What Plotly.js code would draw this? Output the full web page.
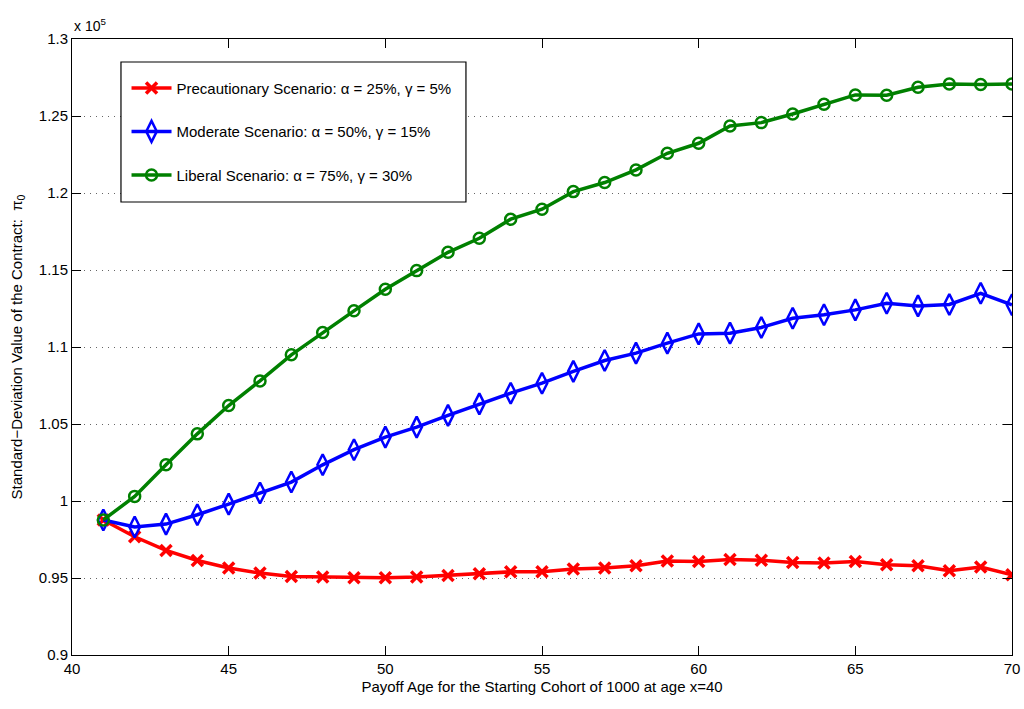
<!DOCTYPE html>
<html>
<head>
<meta charset="utf-8">
<script src="https://cdn.plot.ly/plotly-3.0.1.min.js"></script>
<style>html,body{margin:0;padding:0;background:#fff}#chart{width:1024px;height:709px}</style>
</head>
<body>
<div id="chart"></div>
<script>
// Payoff age (x) and standard-deviation value of the contract (in units of 1e5)
var ages = [41,42,43,44,45,46,47,48,49,50,51,52,53,54,55,56,57,58,59,60,61,62,63,64,65,66,67,68,69,70];

var precautionary = [0.9877,0.9768,0.9679,0.9614,0.9565,0.9532,0.9510,0.9506,0.9502,0.9502,0.9506,0.9516,0.9528,0.9540,0.9541,0.9558,0.9565,0.9580,0.9610,0.9607,0.9620,0.9615,0.9600,0.9598,0.9607,0.9586,0.9580,0.9547,0.9571,0.9521];

var moderate = [0.9877,0.9831,0.9850,0.9911,0.9980,1.0052,1.0123,1.0235,1.0333,1.0415,1.0480,1.0556,1.0631,1.0700,1.0765,1.0842,1.0912,1.0960,1.1025,1.1085,1.1090,1.1127,1.1187,1.1209,1.1241,1.1284,1.1267,1.1276,1.1349,1.1274];

var liberal = [0.9877,1.0030,1.0235,1.0436,1.0620,1.0780,1.0949,1.1094,1.1235,1.1375,1.1496,1.1615,1.1706,1.1830,1.1895,1.2009,1.2068,1.2150,1.2258,1.2323,1.2435,1.2457,1.2513,1.2576,1.2637,1.2635,1.2687,1.2708,1.2704,1.2708];

var seriesNames = [
  'Precautionary Scenario: \u03b1 = 25%, \u03b3 = 5%',
  'Moderate Scenario: \u03b1 = 50%, \u03b3 = 15%',
  'Liberal Scenario: \u03b1 = 75%, \u03b3 = 30%'
];

var xTicks = [40,45,50,55,60,65,70];
var yTicks = [0.9,0.95,1,1.05,1.1,1.15,1.2,1.25,1.3];

var font = {family: 'Liberation Sans, Arial, Helvetica, sans-serif', size: 15, color: '#000'};

var traces = [
  {x: ages, y: precautionary, name: seriesNames[0], mode: 'lines+markers', legendgroup: 'a',
   line: {color: '#ff0000', width: 3.5},
   marker: {symbol: 'x-thin-open', size: 11, color: '#ff0000', line: {color: '#ff0000', width: 3.5}}},
  {x: ages, y: moderate, name: seriesNames[1], mode: 'lines+markers', legendgroup: 'b',
   line: {color: '#0000ff', width: 3.5},
   marker: {symbol: 'diamond-tall-open', size: 15, color: '#0000ff', line: {color: '#0000ff', width: 2.5}}},
  {x: ages, y: liberal, name: seriesNames[2], mode: 'lines+markers', legendgroup: 'c',
   line: {color: '#008000', width: 3.5},
   marker: {symbol: 'circle-open', size: 11, color: '#008000', line: {color: '#008000', width: 2.5}}}
];

var layout = {
  width: 1024, height: 709,
  margin: {l: 72, r: 12, t: 39, b: 54},
  paper_bgcolor: '#fff', plot_bgcolor: '#fff',
  font: font,
  showlegend: true,
  legend: {
    x: 0.058, y: 0.947, xanchor: 'left', yanchor: 'top',
    bgcolor: 'rgba(0,0,0,0)', borderwidth: 0,
    font: font, traceorder: 'grouped', tracegroupgap: 21,
    itemwidth: 40
  },
  shapes: [{
    type: 'rect', xref: 'paper', yref: 'paper', layer: 'above',
    x0: 0.0521, x1: 0.4191, y0: 0.7354, y1: 0.9627,
    fillcolor: '#fff', line: {color: '#000', width: 1.2}
  }],
  xaxis: {
    range: [40, 70], tickvals: xTicks, ticktext: xTicks.map(String),
    ticks: 'inside', ticklen: 9, tickcolor: '#000', tickwidth: 1,
    showline: true, linecolor: '#000', linewidth: 1, mirror: 'ticks',
    showgrid: false, zeroline: false,
    tickfont: font,
    title: {text: 'Payoff Age for the Starting Cohort of 1000 at age x=40', font: font, standoff: 5}
  },
  yaxis: {
    range: [0.9, 1.3], tickvals: yTicks, ticktext: yTicks.map(String),
    ticks: 'inside', ticklen: 9, tickcolor: '#000', tickwidth: 1,
    showline: true, linecolor: '#000', linewidth: 1, mirror: 'ticks',
    showgrid: true, gridcolor: '#666', griddash: '1px,5px', gridwidth: 1,
    zeroline: false,
    tickfont: font,
    title: {text: 'Standard\u2212Deviation Value of the Contract:  \u03c0<sub>0</sub>', font: font, standoff: 12}
  },
  annotations: [{
    xref: 'paper', yref: 'paper', x: 0, y: 1, xanchor: 'left', yanchor: 'bottom',
    yshift: 3, showarrow: false, text: 'x 10<sup>5</sup>', font: {family: font.family, size: 14, color: '#000'}
  }]
};

Plotly.newPlot('chart', traces, layout, {displayModeBar: false, staticPlot: true});
</script>
</body>
</html>
